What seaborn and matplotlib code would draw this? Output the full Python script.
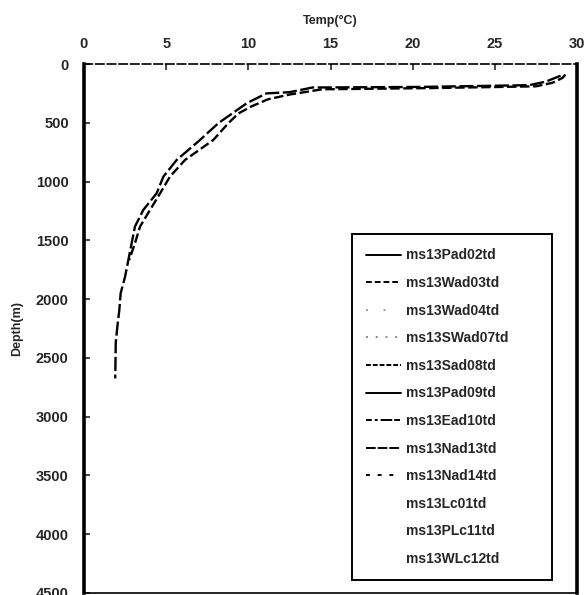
import matplotlib
matplotlib.use("Agg")
import matplotlib.pyplot as plt
from matplotlib.lines import Line2D
import seaborn as sns
import pandas as pd

# ---- data ----
stations = ["ms13Pad02td", "ms13Wad03td", "ms13Wad04td", "ms13SWad07td",
            "ms13Sad08td", "ms13Pad09td", "ms13Ead10td", "ms13Nad13td",
            "ms13Nad14td", "ms13Lc01td", "ms13PLc11td", "ms13WLc12td"]

# station ms13Nad13td (cooler branch)
depth_a = [100, 111, 150, 180, 195, 200, 240, 250, 334, 504, 646, 816, 958,
           1100, 1241, 1383, 1525, 1667, 1809, 1950, 2092, 2234, 2375, 2500, 2675]
temp_a = [29.0, 28.8, 28.1, 27.1, 20.5, 13.9, 12.5, 11.1, 9.9, 8.17, 7.06, 5.64, 4.83,
          4.42, 3.61, 3.10, 2.90, 2.70, 2.50, 2.23, 2.15, 2.03, 1.93, 1.92, 1.90]

# station ms13Wad03td (warmer branch)
depth_b = [90, 120, 160, 190, 205, 215, 260, 300, 360, 420, 504, 646, 816, 958,
           1100, 1241, 1383, 1525, 1667]
temp_b = [29.3, 29.1, 28.5, 27.5, 21.0, 14.5, 12.5, 11.2, 10.2, 9.4, 8.78, 7.87,
          6.15, 5.23, 4.63, 4.02, 3.41, 3.10, 2.75]

xticks = [0, 5, 10, 15, 20, 25, 30]
yticks = [0, 500, 1000, 1500, 2000, 2500, 3000, 3500, 4000, 4500]

df = pd.concat([
    pd.DataFrame({"temp": temp_a, "depth": depth_a, "station": "ms13Nad13td"}),
    pd.DataFrame({"temp": temp_b, "depth": depth_b, "station": "ms13Wad03td"}),
], ignore_index=True)

# ---- styles ----
styles = {
    "ms13Pad02td": dict(ls="-", color="black"),
    "ms13Wad03td": dict(ls=(0, (3, 1.5)), color="black"),
    "ms13Wad04td": dict(ls=(0, (1, 8)), color="#999999"),
    "ms13SWad07td": dict(ls=(0, (1, 4)), color="#888888"),
    "ms13Sad08td": dict(ls=(0, (2.5, 1)), color="black"),
    "ms13Pad09td": dict(ls="-", color="black"),
    "ms13Ead10td": dict(ls=(0, (3, 1.5, 1.5, 1.5, 6, 1)), color="black"),
    "ms13Nad13td": dict(ls=(0, (5, 1)), color="black"),
    "ms13Nad14td": dict(ls=(0, (2, 4)), color="black"),
    "ms13Lc01td": dict(ls="none", color="black"),
    "ms13PLc11td": dict(ls="none", color="black"),
    "ms13WLc12td": dict(ls="none", color="black"),
}

sns.set_theme(style="white")
plt.rcParams["font.family"] = ["Liberation Sans Narrow", "Liberation Sans", "DejaVu Sans"]

fig = plt.figure(figsize=(5.88, 5.95), dpi=100)
ax = fig.add_axes([84 / 588, 1 - 593 / 595, 493 / 588, 529 / 595])

sns.lineplot(data=df, x="temp", y="depth", hue="station", style="station",
             palette={"ms13Nad13td": "black", "ms13Wad03td": "black"},
             dashes={"ms13Nad13td": (6, 1.5), "ms13Wad03td": (4, 1.5)},
             sort=False, estimator=None, orient="y", linewidth=1.7,
             legend=False, ax=ax)

ax.set_xlim(0, 30)
ax.set_ylim(4500, 0)
ax.set_xticks(xticks)
ax.set_yticks(yticks)
ax.xaxis.tick_top()
ax.xaxis.set_label_position("top")
ax.set_xlabel("Temp(°C)", fontsize=9, labelpad=10)
ax.set_ylabel("Depth(m)", fontsize=9, labelpad=9)
ax.tick_params(axis="x", direction="in", length=4, width=1.2, pad=9,
               labelsize=10.5, top=True, bottom=False)
ax.tick_params(axis="y", direction="in", length=4, width=1.2, pad=11,
               labelsize=10.5, left=True, right=False)
for lab in ax.get_xticklabels() + ax.get_yticklabels():
    lab.set_fontweight("bold")
ax.xaxis.label.set_fontweight("bold")
ax.yaxis.label.set_fontweight("bold")

for side in ["left", "right"]:
    ax.spines[side].set_linewidth(2.6)
    ax.spines[side].set_color("black")
ax.spines["top"].set_linewidth(1.2)
ax.spines["top"].set_linestyle((0, (5, 2)))
ax.spines["top"].set_color("black")
ax.spines["bottom"].set_linewidth(1.2)
ax.spines["bottom"].set_color("black")

handles = [Line2D([], [], lw=1.4, linestyle=styles[s]["ls"], color=styles[s]["color"])
           for s in stations]
leg = ax.legend(handles, stations, loc="lower left",
                bbox_to_anchor=(0.544, 0.0246, 0.405, 0.6), mode="expand",
                fontsize=10, labelspacing=0.98, handlelength=2.5,
                handletextpad=0.4, borderpad=1.0, borderaxespad=0,
                frameon=True, fancybox=False,
                edgecolor="black", framealpha=1)
leg.get_frame().set_linewidth(1.4)
for t in leg.get_texts():
    t.set_fontweight("bold")

fig.savefig("out.png", dpi=100)
